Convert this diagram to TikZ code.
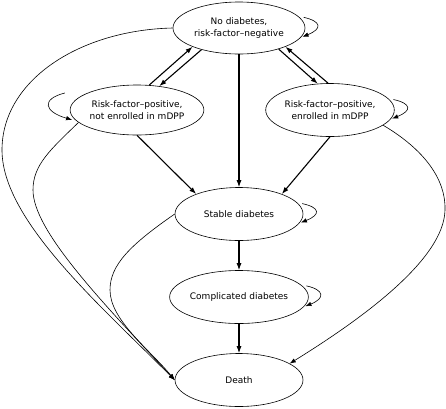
\documentclass[tikz,border=0pt]{standalone}
\usepackage{fontspec}
\setmainfont{DejaVu Sans}
\usetikzlibrary{shapes.geometric,arrows.meta}
\begin{document}
\begin{tikzpicture}[x=1pt, y=-1pt,
  state/.style={draw, ellipse, line width=0.6pt, minimum width=128pt, minimum height=53pt,
    inner sep=0pt, align=center, font=\fontsize{9}{12.5}\selectfont},
  fwd/.style={-{Latex[length=7pt,width=5pt]}, line width=1.1pt},
  thinarr/.style={-{Latex[length=6pt,width=4.5pt]}, line width=0.6pt}]

\useasboundingbox (0,0) rectangle (446,408);

\node[state, minimum width=132pt, minimum height=52pt] (nodiab) at (239,28) {No diabetes,\\risk-factor--negative};
\node[state, minimum height=50pt] (rfno) at (137,110) {Risk-factor--positive,\\not enrolled in mDPP};
\node[state] (rfen) at (330,110) {Risk-factor--positive,\\enrolled in mDPP};
\node[state] (stable) at (239,214) {Stable diabetes};
\node[state] (compl) at (239,297) {Complicated diabetes};
\node[state] (death) at (239,380) {Death};

\draw[fwd] (rfno.64) -- (nodiab.202);
\draw[fwd] (nodiab.210) -- (rfno.47);
\draw[fwd] (nodiab.-28) -- (rfen.115);
\draw[fwd] (rfen.94) -- (nodiab.-22);

\draw[fwd] (nodiab.south) -- (stable.north);
\draw[fwd] (rfno.south) -- (stable.155);
\draw[fwd] (rfen.south) -- (stable.25);
\draw[fwd] (stable.south) -- (compl.north);
\draw[fwd] (compl.south) -- (death.north);

\foreach \n in {nodiab, rfen, stable, compl} {
  \draw[thinarr] ([xshift=4pt]\n.10) .. controls +(18,4) and +(20,-8) .. ([xshift=1pt]\n.-8);
}
\draw[thinarr] ([shift={(-5,-17)}]rfno.west) .. controls +(-24,6) and +(-28,-8) .. ([xshift=-3pt]rfno.189);

\draw[thinarr] (nodiab.west) .. controls (80,30) and (2,80) .. (2,150)
  .. controls (2,220) and (100,305) .. (death.west);
\draw[thinarr] (rfno.192) .. controls (50,150) and (33,165) .. (33,190)
  .. controls (33,230) and (100,300) .. (death.west);
\draw[thinarr] (stable.west) .. controls (130,245) and (110,265) .. (110,290)
  .. controls (110,320) and (150,350) .. (death.west);
\draw[thinarr] (rfen.-16) .. controls (425,150) and (446,180) .. (445,210)
  .. controls (444,260) and (360,320) .. (death.18);

\end{tikzpicture}
\end{document}
